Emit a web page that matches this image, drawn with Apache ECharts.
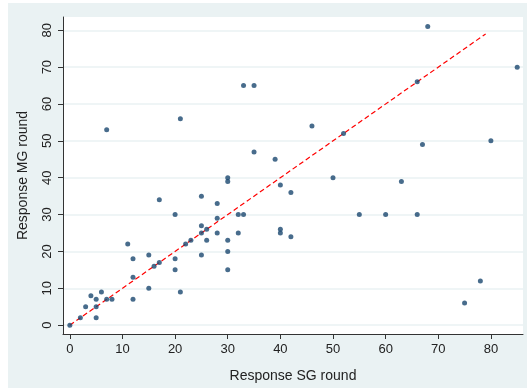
<!DOCTYPE html>
<html>
<head>
<meta charset="utf-8">
<script src="https://cdn.jsdelivr.net/npm/echarts@6/dist/echarts.min.js"></script>
<style>
  html, body { margin: 0; padding: 0; background: #fff; }
  #chart { position: absolute; left: 8px; top: 3px; width: 519px; height: 385px; }
</style>
</head>
<body>
<div id="chart"></div>
<script>
// SG round vs MG round responses
const sgRound = [0, 2, 3, 4, 5, 5, 5, 6, 7, 8, 7,
  11, 12, 12, 12, 15, 15, 16, 17, 17,
  20, 20, 20, 21, 21, 22, 23,
  25, 25, 25, 25, 26, 26, 28, 28, 28,
  30, 30, 30, 30, 30, 32, 32, 33, 33, 35, 35, 39,
  40, 40, 40, 42, 42, 46, 50, 52,
  55, 60, 63, 66, 66, 67, 68, 75, 78, 80, 85];
const mgRound = [0, 2, 5, 8, 7, 5, 2, 9, 7, 7, 53,
  22, 18, 13, 7, 19, 10, 16, 17, 34,
  30, 18, 15, 9, 56, 22, 23,
  35, 27, 25, 19, 26, 23, 33, 29, 25,
  40, 39, 23, 20, 15, 30, 25, 30, 65, 65, 47, 45,
  38, 26, 25, 36, 24, 54, 40, 52,
  30, 30, 39, 30, 66, 49, 81, 6, 12, 50, 70];
const ticks = [0, 10, 20, 30, 40, 50, 60, 70, 80];
const fitLine = [[0, 0], [79, 79]];

const points = sgRound.map((x, i) => [x, mgRound[i]]);

const chart = echarts.init(document.getElementById('chart'));

const axisFont = { fontFamily: 'Liberation Sans, Arial, sans-serif', fontSize: 13, color: '#222' };
const titleFont = { fontFamily: 'Liberation Sans, Arial, sans-serif', fontSize: 14, color: '#222' };

chart.setOption({
  backgroundColor: '#eaf2f3',
  animation: false,
  grid: {
    left: 54, right: 4, top: 14, bottom: 50,
    show: true, backgroundColor: '#fff', borderWidth: 0
  },
  xAxis: {
    type: 'value',
    min: -1.3, max: 86.1,
    name: 'Response SG round',
    nameLocation: 'middle',
    nameGap: 35,
    nameTextStyle: titleFont,
    axisLine: { onZero: false, lineStyle: { color: '#333', width: 1 } },
    axisTick: { show: true, length: 5, customValues: ticks, lineStyle: { color: '#333' } },
    axisLabel: Object.assign({ margin: 9, customValues: ticks }, axisFont),
    splitLine: { show: false }
  },
  yAxis: {
    type: 'value',
    min: -2.4, max: 83.6,
    name: 'Response MG round',
    nameLocation: 'middle',
    nameGap: 33,
    nameRotate: 90,
    nameTextStyle: titleFont,
    axisLine: { show: true, onZero: false, lineStyle: { color: '#333', width: 1 } },
    axisTick: { show: true, length: 5, customValues: ticks, lineStyle: { color: '#333' } },
    axisLabel: Object.assign({ margin: 9, rotate: 90, customValues: ticks }, axisFont),
    splitLine: { show: true, lineStyle: { color: '#eaf2f3', width: 1.5 } }
  },
  series: [
    {
      type: 'scatter',
      data: points,
      symbolSize: 5,
      itemStyle: { color: '#1a476f' },
      z: 3
    },
    {
      type: 'line',
      data: fitLine,
      symbol: 'none',
      lineStyle: { color: '#ff0000', width: 1.2, type: [5, 3] },
      z: 2
    }
  ]
});
</script>
</body>
</html>
